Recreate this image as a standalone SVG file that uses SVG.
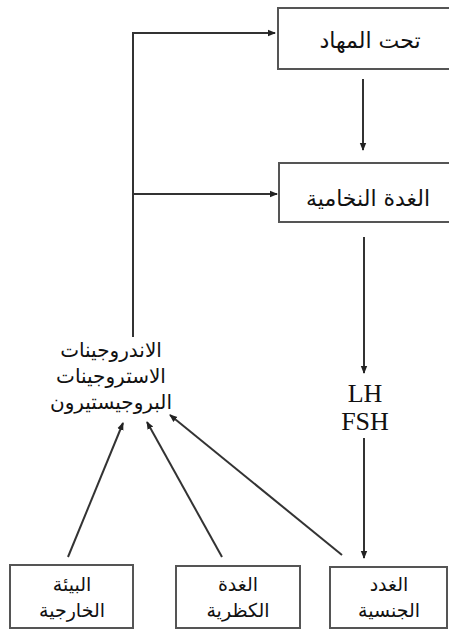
<svg xmlns="http://www.w3.org/2000/svg" width="449" height="631" viewBox="0 0 449 631">
<defs>
<marker id="ah" markerWidth="8" markerHeight="8" refX="7" refY="4" orient="auto" markerUnits="userSpaceOnUse">
<path d="M0,0.8 L8,4 L0,7.2 Z" fill="#222"/>
</marker>
</defs>
<style>
.box{fill:#fff;stroke:#555;stroke-width:2}
.ar{font-family:"DejaVu Sans",sans-serif;font-size:19px;fill:#111;text-anchor:middle}
.big{font-size:22px}
.mid{font-size:20px}
.lat{font-family:"Liberation Serif",serif;font-size:26px;fill:#111;text-anchor:middle}
.ln{fill:none;stroke:#333;stroke-width:2}
</style>
<rect width="449" height="631" fill="#fff"/>
<g id="connectors">
<path class="ln" d="M133,337 V33 H275" marker-end="url(#ah)"/>
<path class="ln" d="M133,194 H277" marker-end="url(#ah)"/>
<path class="ln" d="M363,79 V150" marker-end="url(#ah)"/>
<path class="ln" d="M364,237 V373" marker-end="url(#ah)"/>
<path class="ln" d="M364,438 V558" marker-end="url(#ah)"/>
<path class="ln" d="M68,557 L123,423" marker-end="url(#ah)"/>
<path class="ln" d="M222,557 L147,422" marker-end="url(#ah)"/>
<path class="ln" d="M342,555 L170,415" marker-end="url(#ah)"/>
</g>
<g id="hypothalamus">
<rect class="box" x="278" y="8" width="180" height="61"/>
<text class="ar big" x="370" y="48">تحت المهاد</text>
</g>
<g id="pituitary">
<rect class="box" x="279" y="163" width="180" height="59"/>
<text class="ar big" x="368" y="206">الغدة النخامية</text>
</g>
<g id="hormones">
<text class="ar mid" x="111" y="357">الاندروجينات</text>
<text class="ar mid" x="111" y="383">الاستروجينات</text>
<text class="ar mid" x="111" y="409">البروجيستيرون</text>
</g>
<g id="lhfsh">
<text class="lat" x="365" y="402">LH</text>
<text class="lat" x="365" y="430">FSH</text>
</g>
<g id="environment">
<rect class="box" x="10" y="565" width="123" height="63"/>
<text class="ar" x="72" y="591">البيئة</text>
<text class="ar" x="72" y="617">الخارجية</text>
</g>
<g id="adrenal">
<rect class="box" x="176" y="566" width="124" height="62"/>
<text class="ar" x="238" y="591">الغدة</text>
<text class="ar" x="238" y="617">الكظرية</text>
</g>
<g id="gonads">
<rect class="box" x="330" y="567" width="117" height="61"/>
<text class="ar" x="389" y="591">الغدد</text>
<text class="ar" x="389" y="617">الجنسية</text>
</g>
</svg>
